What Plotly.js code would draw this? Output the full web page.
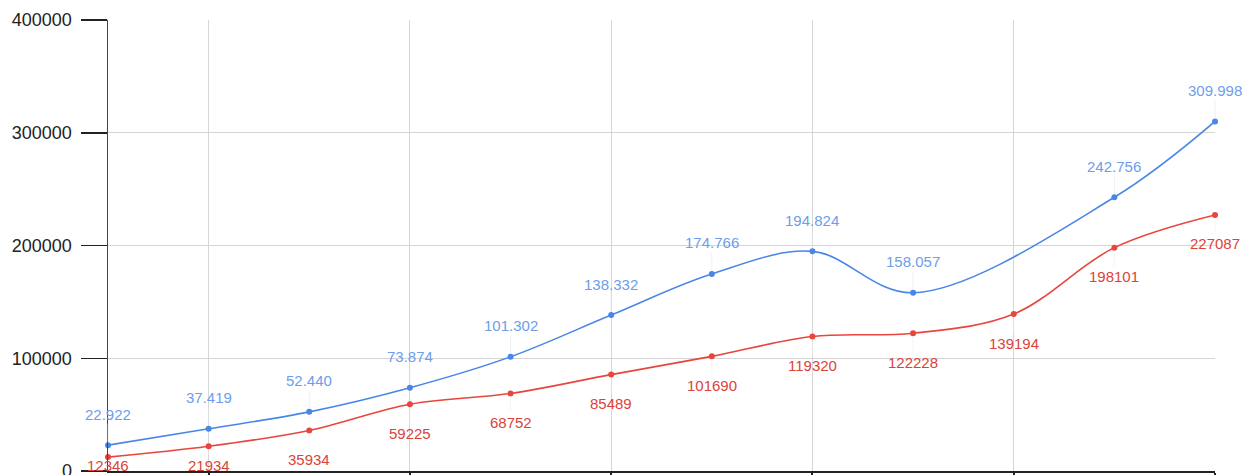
<!DOCTYPE html>
<html>
<head>
<meta charset="utf-8">
<script src="https://cdn.plot.ly/plotly-3.0.1.min.js"></script>
<style>html,body{margin:0;padding:0;background:#fff;}#chart{width:1242px;height:475px;}</style>
</head>
<body>
<div id="chart"></div>
<script>
const categories = [0, 1, 2, 3, 4, 5, 6, 7, 8, 9, 10, 11];
const blueValues = [22922, 37419, 52440, 73874, 101302, 138332, 174766, 194824, 158057, null, 242756, 309998];
const redValues = [12346, 21934, 35934, 59225, 68752, 85489, 101690, 119320, 122228, 139194, 198101, 227087];
const yTicks = [0, 100000, 200000, 300000, 400000];
const xGridTicks = [1, 3, 5, 7, 9, 11];

const W = 1242, H = 475;
const margin = {l: 108, r: 27, t: 20, b: 4};
const plotH = H - margin.t - margin.b;
const yMax = 400000;

const blueLine = '#4a86e8', redLine = '#e8453c';
const blueText = '#6d9eeb', redText = '#d9443a';
const labelFont = 'Liberation Sans, Arial, sans-serif';

function fmtDot(v) { return String(v).replace(/\B(?=(\d{3})+(?!\d))/g, '.'); }

const traces = [
  {x: categories, y: blueValues, mode: 'lines+markers', connectgaps: true,
   line: {color: blueLine, width: 1.6, shape: 'spline', smoothing: 1},
   marker: {color: blueLine, size: 6}, hoverinfo: 'skip', cliponaxis: false},
  {x: categories, y: redValues, mode: 'lines+markers',
   line: {color: redLine, width: 1.6, shape: 'spline', smoothing: 1},
   marker: {color: redLine, size: 6}, hoverinfo: 'skip', cliponaxis: false}
];

const annotations = [];
categories.forEach((c, i) => {
  const b = blueValues[i];
  if (b !== null) {
    annotations.push({x: c, y: b, xref: 'x', yref: 'y', text: fmtDot(b),
      showarrow: true, arrowhead: 0, arrowwidth: 0.6, arrowcolor: '#e4e4e4',
      ax: 0, ay: -31, standoff: 3,
      font: {family: labelFont, size: 15, color: blueText}});
  }
  const r = redValues[i];
  const distPx = r / yMax * plotH;
  const off = Math.min(29, distPx - 6);
  annotations.push({x: c, y: r, xref: 'x', yref: 'y', text: String(r),
    showarrow: true, arrowhead: 0, arrowwidth: 0.6, arrowcolor: '#eeeeee',
    ax: 0, ay: off, standoff: 3,
    font: {family: labelFont, size: 15, color: redText}});
});

const layout = {
  width: W, height: H, margin: margin,
  paper_bgcolor: '#fff', plot_bgcolor: '#fff', showlegend: false,
  font: {family: labelFont, color: '#222'},
  xaxis: {range: [0, 11], tickvals: xGridTicks, showticklabels: false,
    showgrid: true, gridcolor: '#d6d6d6', gridwidth: 1, zeroline: false,
    showline: true, linecolor: '#222', linewidth: 2,
    ticks: 'outside', ticklen: 6, tickwidth: 2, tickcolor: '#222', fixedrange: true},
  yaxis: {range: [0, yMax], tickvals: yTicks, ticktext: yTicks.map(String),
    showgrid: true, gridcolor: '#d6d6d6', gridwidth: 1, zeroline: false,
    showline: true, linecolor: '#444', linewidth: 1.5,
    ticks: 'outside', ticklen: 26, tickwidth: 1.5, tickcolor: '#222',
    ticklabelstandoff: 5, ticklabeloverflow: 'allow',
    tickfont: {family: labelFont, size: 18, color: '#222'},
    fixedrange: true},
  annotations: annotations
};

Plotly.newPlot('chart', traces, layout, {displayModeBar: false, staticPlot: true});
</script>
</body>
</html>
